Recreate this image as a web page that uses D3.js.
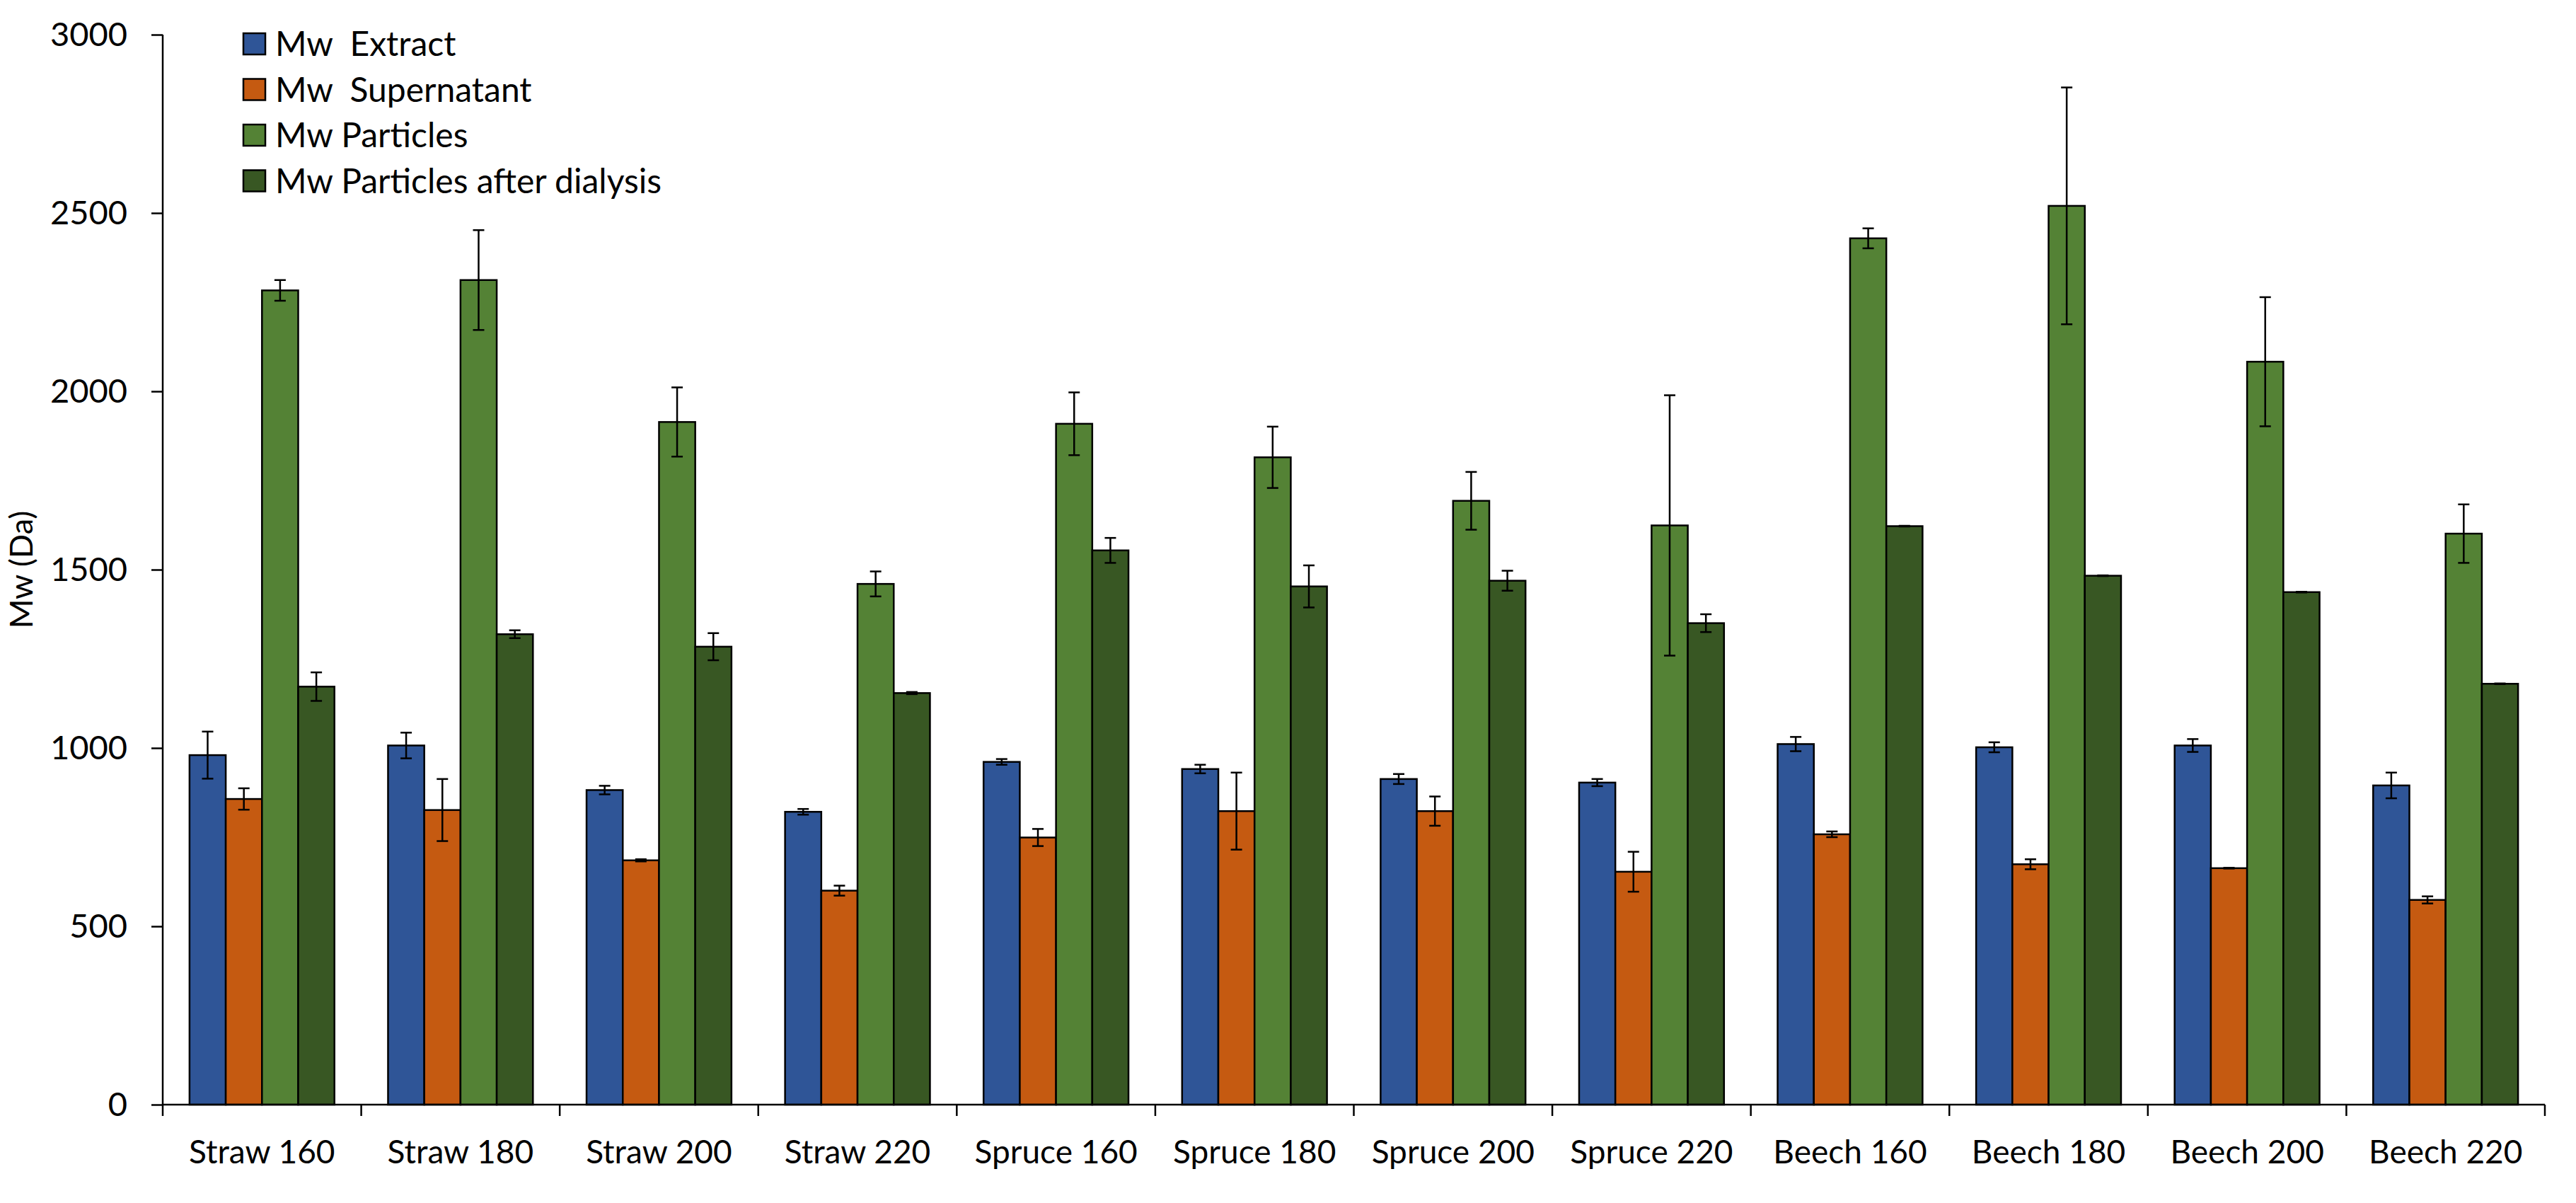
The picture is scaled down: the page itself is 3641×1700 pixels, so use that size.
<!DOCTYPE html>
<html>
<head>
<meta charset="utf-8">
<script src="https://cdn.jsdelivr.net/npm/d3@7"></script>
<style>
  body { margin: 0; background: #fff; }
  text { font-family: Lato, "Open Sans", sans-serif; fill: #000; }
</style>
</head>
<body>
<svg id="chart" width="3641" height="1700"></svg>
<script>
// categories and series
var categories = ["Straw 160", "Straw 180", "Straw 200", "Straw 220",
                  "Spruce 160", "Spruce 180", "Spruce 200", "Spruce 220",
                  "Beech 160", "Beech 180", "Beech 200", "Beech 220"];
var seriesNames = ["Mw  Extract", "Mw  Supernatant", "Mw Particles", "Mw Particles after dialysis"];

var extract       = [980, 1007, 882, 821, 961, 941, 913, 903, 1011, 1002, 1007, 895];
var extractErr    = [66, 36, 12, 8, 8, 12, 14, 10, 20, 14, 18, 36];
var supernatant   = [857, 826, 685, 600, 749, 823, 823, 653, 758, 674, 663, 574];
var supernatantErr= [30, 87, 3, 14, 24, 108, 41, 56, 8, 14, 1, 10];
var particles     = [2283, 2312, 1914, 1460, 1909, 1815, 1693, 1624, 2429, 2520, 2083, 1601];
var particlesErr  = [29, 140, 97, 35, 88, 86, 81, 365, 28, 332, 181, 82];
var dialysis      = [1172, 1319, 1284, 1154, 1554, 1453, 1469, 1350, 1622, 1483, 1437, 1180];
var dialysisErr   = [40, 11, 38, 3, 35, 59, 28, 25, 1, 1, 1, 1];

var yTicks = [0, 500, 1000, 1500, 2000, 2500, 3000];

//colors of the series
var colors = ["#2F5597", "#C55A11", "#548235", "#385723"];

var values = [extract, supernatant, particles, dialysis];
var errors = [extractErr, supernatantErr, particlesErr, dialysisErr];

var plotLeft = 230, plotRight = 3597, plotTop = 49, plotBottom = 1561;

var svg = d3.select("#chart");

var x0 = d3.scaleBand()
    .domain(categories)
    .range([plotLeft, plotRight])
    .paddingInner(0.27)
    .paddingOuter(0.135);

var x1 = d3.scaleBand()
    .domain(d3.range(4))
    .range([0, x0.bandwidth()]);

var y = d3.scaleLinear()
    .domain([0, 3000])
    .range([plotBottom, plotTop]);

// flatten into one row per bar
var rows = [];
categories.forEach(function(c, i) {
    for (var s = 0; s < 4; s++) {
        rows.push({cat: c, s: s, v: values[s][i], e: errors[s][i]});
    }
});

svg.append("g").selectAll("rect")
    .data(rows)
    .enter()
    .append("rect")
    .attr("x", function(d) { return x0(d.cat) + x1(d.s); })
    .attr("y", function(d) { return y(d.v); })
    .attr("width", x1.bandwidth())
    .attr("height", function(d) { return y(0) - y(d.v); })
    .attr("fill", function(d) { return colors[d.s]; })
    .attr("stroke", "#000")
    .attr("stroke-width", 2.5);

// error bars
var capW = 8;
var eb = svg.append("g").attr("stroke", "#000").attr("stroke-width", 2.5);
rows.forEach(function(d) {
    var cx = x0(d.cat) + x1(d.s) + x1.bandwidth() / 2;
    eb.append("line")
        .attr("x1", cx).attr("x2", cx)
        .attr("y1", y(d.v + d.e)).attr("y2", y(d.v - d.e));
    eb.append("line")
        .attr("x1", cx - capW).attr("x2", cx + capW)
        .attr("y1", y(d.v + d.e)).attr("y2", y(d.v + d.e));
    eb.append("line")
        .attr("x1", cx - capW).attr("x2", cx + capW)
        .attr("y1", y(d.v - d.e)).attr("y2", y(d.v - d.e));
});

// y axis
var yAxis = svg.append("g")
    .attr("transform", "translate(" + plotLeft + ",0)")
    .call(d3.axisLeft(y).tickValues(yTicks).tickSize(16).tickPadding(34).tickFormat(d3.format("d")));
yAxis.selectAll("text").style("font-size", "47px").style("font-family", "Lato");
yAxis.selectAll("line, path").attr("stroke", "#000").attr("stroke-width", 2.5);
yAxis.select("path").attr("d", "M0," + plotTop + "V" + plotBottom);

// x axis (labels at centers, ticks at group borders)
var xAxis = svg.append("g")
    .attr("transform", "translate(0," + plotBottom + ")")
    .call(d3.axisBottom(x0).tickSize(0).tickPadding(50));
xAxis.selectAll("text").style("font-size", "46px").style("font-family", "Lato");
xAxis.select("path").attr("d", "M" + plotLeft + ",0H" + plotRight)
    .attr("stroke", "#000").attr("stroke-width", 2.5);

var step = x0.step();
xAxis.selectAll("line.border")
    .data(d3.range(categories.length + 1))
    .enter()
    .append("line")
    .attr("class", "border")
    .attr("x1", function(i) { return plotLeft + step * i; })
    .attr("x2", function(i) { return plotLeft + step * i; })
    .attr("y1", 0).attr("y2", 16)
    .attr("stroke", "#000").attr("stroke-width", 2.5);

// y axis title
svg.append("text")
    .attr("transform", "translate(46," + ((plotTop + plotBottom) / 2) + ") rotate(-90)")
    .attr("text-anchor", "middle")
    .style("font-size", "45px")
    .text("Mw (Da)");

// legend
var legend = svg.append("g").selectAll("g")
    .data(seriesNames)
    .enter()
    .append("g")
    .attr("transform", function(d, i) { return "translate(344," + (62 + i * 64.5) + ")"; });

legend.append("rect")
    .attr("x", 0).attr("y", -15)
    .attr("width", 31).attr("height", 30)
    .attr("fill", function(d, i) { return colors[i]; })
    .attr("stroke", "#000").attr("stroke-width", 2.5);

legend.append("text")
    .attr("x", 45)
    .attr("dy", "0.36em")
    .style("font-size", "48px")
    .style("white-space", "pre")
    .text(function(d) { return d; });
</script>
</body>
</html>
